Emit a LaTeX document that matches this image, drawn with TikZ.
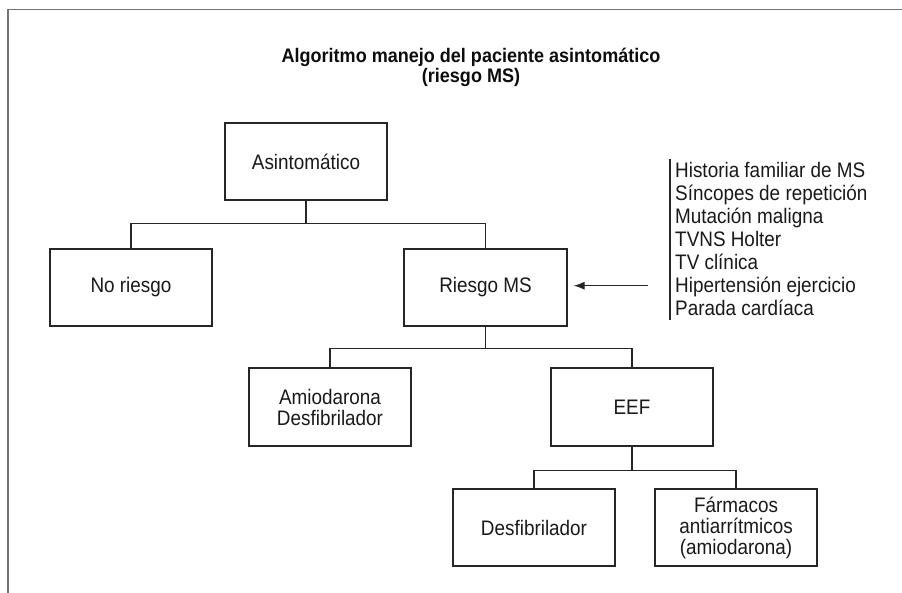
\documentclass[tikz,border=0pt]{standalone}
\usepackage{fontspec}
\setmainfont{Liberation Sans}
\newfontfamily\bxfont[FakeStretch=0.9]{Liberation Sans}
\newfontfamily\ttlfont[FakeStretch=0.92]{Liberation Sans Bold}
\usetikzlibrary{arrows.meta,calc}
\begin{document}
\begin{tikzpicture}[x=1pt,y=-1pt,
  box/.style={draw=black!85, line width=1.2pt, minimum width=162pt, minimum height=77pt,
    inner sep=0pt, align=center, text=black!90, font=\bxfont\fontsize{21}{21}\selectfont},
  conn/.style={draw=black!85, line width=1.2pt},
  frame/.style={draw=black!55, line width=1.3pt},
  titletxt/.style={anchor=base, inner sep=0pt, text=black!95, font=\ttlfont\fontsize{19.6}{20}\selectfont},
  listtxt/.style={anchor=base west, inner sep=0pt, text=black!90, font=\bxfont\fontsize{21}{23}\selectfont}]
\useasboundingbox (0,0) rectangle (902,593);
% frame (top and left edges)
\draw[frame] (8,593) -- (8,9.5) -- (902,9.5);
% title
\node[titletxt] (title1) at (471,63) {Algoritmo manejo del paciente asintomático};
\node[titletxt] (title2) at (471,83) {(riesgo MS)};
% boxes
\node[box] (asin) at (306,161.5) {Asintomático};
\node[box] (noriesgo) at (131,287.5) {No riesgo};
\node[box, minimum width=163pt] (riesgo) at (485.5,287.5) {Riesgo MS};
\node[box, minimum height=78pt] (amio) at (330,407) {Amiodarona\\Desfibrilador};
\node[box, minimum height=78pt] (eef) at (632,407) {EEF};
\node[box] (desf) at (534,527.5) {Desfibrilador};
\node[box] (farm) at (736,527.5) {Fármacos\\antiarrítmicos\\(amiodarona)};
% connectors
\draw[conn] (asin.south) -- ++(0,23) coordinate (j1);
\draw[conn] (noriesgo.north) |- (j1) -| (riesgo.north);
\draw[conn] (riesgo.south) -- ++(0,22) coordinate (j2);
\draw[conn] (amio.north) |- (j2) -| (eef.north);
\draw[conn] (eef.south) -- ++(0,24) coordinate (j3);
\draw[conn] (desf.north) |- (j3) -| (farm.north);
% risk factor list
\foreach \t [count=\i] in {Historia familiar de MS, Síncopes de repetición, Mutación maligna,
  TVNS Holter, TV clínica, Hipertensión ejercicio, Parada cardíaca}
  \node[listtxt] (f\i) at (675,{177.7+23.05*(\i-1)}) {\t};
\coordinate (bartop) at (670,159);
\coordinate (barbot) at (670,320);
\draw[conn] (bartop) -- (barbot);
\coordinate (atail) at (648,285.7);
\draw[conn, -{Latex[length=11pt,width=8pt]}, shorten >=6pt] (atail) -- (atail -| riesgo.east);
\end{tikzpicture}
\end{document}
